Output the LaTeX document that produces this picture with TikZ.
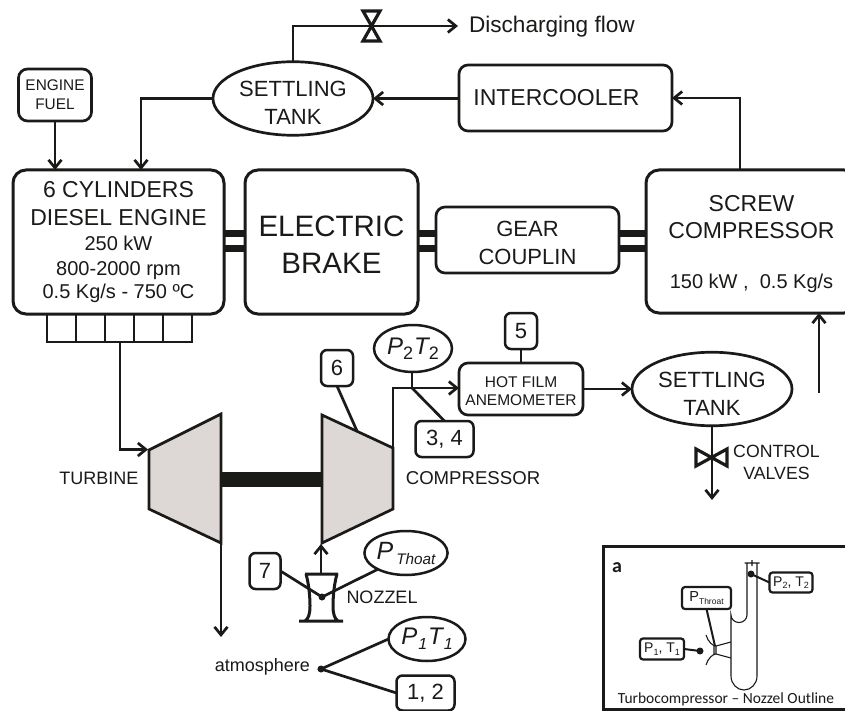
\documentclass[tikz,border=0pt]{standalone}
\usepackage{fontspec}
\setmainfont{Liberation Sans}
\newfontfamily\capfont{Carlito}
\usetikzlibrary{shapes.geometric,arrows.meta}
\newcommand{\fs}[2]{\fontsize{#1}{#2}\selectfont}
\newcommand{\lowr}[3]{\raisebox{-#2pt}{\fontsize{#1}{#1}\selectfont #3}}
\newcommand{\hgt}[1]{\rule{0pt}{#1pt}}
\definecolor{ink}{HTML}{1A1A18}
\definecolor{casing}{HTML}{DDD8D6}
\tikzset{
  x=1pt,y=-1pt,
  every node/.style={text=ink,inner sep=0pt,outer sep=0pt},
  bigbox/.style={draw=ink,line width=3pt,rounded corners=13pt,align=center},
  midbox/.style={draw=ink,line width=2.7pt,rounded corners=9pt,align=center},
  numbox/.style={draw=ink,line width=2.5pt,rounded corners=6pt,align=center,font=\fs{22}{24}},
  tank/.style={draw=ink,line width=2.7pt,ellipse,align=center},
  label/.style={align=center},
  pipe/.style={draw=ink,line width=2.7pt},
  flow/.style={pipe,-{Straight Barb[length=8pt,width=13pt,line width=2.7pt]}},
  bar/.style={draw=ink,line width=7pt},
  casingshape/.style={draw=ink,line width=2.7pt,fill=casing,line join=miter},
  valve/.style={draw=ink,line width=3.2pt,line join=miter},
  thin/.style={draw=ink,line width=1.1pt},
  insetbox/.style={draw=ink,line width=2.2pt,rounded corners=3pt,fill=white,align=center},
  insetlead/.style={draw=ink,line width=2pt},
  dot/.style={circle,fill=ink,minimum size=#1},
}
\begin{document}
\begin{tikzpicture}
\clip (0,0) rectangle (845,711);
\fill[white] (0,0) rectangle (845,711);

% main boxes
\node[bigbox,minimum width=211pt,minimum height=144pt,font=\fs{20}{25}] (engine) at (118.5,242)
  {{\fontsize{23}{25}\selectfont 6 CYLINDERS}\\[3pt]{\fontsize{23}{25}\selectfont DIESEL ENGINE}\\250 kW\\800-2000 rpm\\[-2pt]0.5 Kg/s - 750 ºC};
\node[bigbox,minimum width=173pt,minimum height=144pt,font=\fs{29.5}{37}] (brake) at (331.5,242) {\hgt{26}ELECTRIC\\BRAKE};
\node[midbox,minimum width=183pt,minimum height=66pt,font=\fs{22}{28}] (gear) at (527.5,240) {\hgt{22}GEAR\\COUPLIN};
\node[bigbox,minimum width=211pt,minimum height=143pt,font=\fs{20}{27}] (screw) at (751.5,241.5)
  {\hgt{20.5}{\fontsize{23}{27}\selectfont SCREW}\\{\fontsize{23}{27}\selectfont COMPRESSOR}\\[23pt]150 kW ,\ \ 0.5 Kg/s};
\node[midbox,minimum width=213pt,minimum height=66pt,font=\fs{23}{28}] (cooler) at (565.5,98) {INTERCOOLER\kern18pt};
\node[tank,minimum width=160pt,minimum height=73pt,font=\fs{22}{28}] (tanktop) at (293,98.5) {\hgt{24}SETTLING\\TANK};
\node[midbox,minimum width=73pt,minimum height=52pt,font=\fs{15.4}{19}] (fuel) at (55,95) {ENGINE\\FUEL};
\node[midbox,minimum width=124pt,minimum height=52pt,font=\fs{15.5}{18}] (hotfilm) at (521,389) {\hgt{16}HOT FILM\\ANEMOMETER};
\node[tank,minimum width=160pt,minimum height=72pt,font=\fs{22}{28}] (tankbot) at (712,389) {\hgt{24}SETTLING\\TANK};

% discharge
\coordinate (dis) at (458,26);
\node[label,anchor=west,font=\fs{22.6}{26}] (distext) at (469,27) {Discharging flow};
\draw[flow] (tanktop.north) -- (tanktop.north |- dis) -- (dis);
\draw[valve] (363,11) -- (380,11) -- (363,41) -- (380,41) -- cycle;

% top connections
\draw[flow] (cooler.west |- tanktop.east) -- (tanktop.east);
\coordinate (screwUp) at (740,170);
\draw[flow] (screwUp) -- (screwUp |- cooler.east) -- (cooler.east);
\draw[flow] (fuel.south) -- (fuel.south |- engine.north);
\coordinate (engIn) at (141,170);
\draw[flow] (tanktop.west) -- (tanktop.west -| engIn) -- (engIn);

% couplers
\foreach \yy in {233.5,248.5}{
  \draw[bar] (engine.east |- 0,\yy) -- (brake.west |- 0,\yy);
  \draw[bar] (brake.east |- 0,\yy) -- (gear.west |- 0,\yy);
  \draw[bar] (gear.east |- 0,\yy) -- (screw.west |- 0,\yy);
}

% exhaust manifold
\draw[pipe] (47,314) -- (47,342) -- (192,342) -- (192,314);
\foreach \xx in {76,105,134,163}{\draw[pipe] (\xx,314) -- (\xx,342);}
\coordinate (manifold) at (120,342);

% turbine and compressor
\coordinate (turbIn) at (148,449.5);
\draw[casingshape] (149,450) -- (221,414) -- (221,543) -- (149,509) -- cycle;
\draw[casingshape] (322,415) -- (393,448) -- (393,509) -- (322,543) -- cycle;
\fill[ink] (221,472) rectangle (322,487);
\draw[flow] (manifold) -- (manifold |- turbIn) -- (turbIn);
\node[label,font=\fs{18}{22}] (turbtext) at (99,478) {TURBINE};
\node[label,font=\fs{18.6}{22}] (comptext) at (473,478) {COMPRESSOR};

% compressor outlet
\coordinate (compOut) at (393,448);
\coordinate (tap) at (412,388);
\draw[flow] (compOut) -- (compOut |- tap) -- (hotfilm.west |- tap);
\node[tank,minimum width=78pt,minimum height=47pt,font=\itshape\fs{24}{28},line width=2.5pt] (p2) at (413,348.5)
  {P\lowr{18}{5}{\upshape 2}\kern1pt T\lowr{18}{5}{\upshape 2}};
\node[numbox,minimum width=58pt,minimum height=36pt] (b34) at (444.5,439) {3, 4};
\node[numbox,minimum width=32pt,minimum height=36pt] (b6) at (337,368) {6};
\node[numbox,minimum width=32pt,minimum height=36pt] (b5) at (521,331) {5};
\draw[pipe] (p2.south -| tap) -- (tap);
\draw[pipe] (tap) -- (b34.north);
\coordinate (b6end) at (357,431);
\draw[pipe] (b6.south) -- (b6end);
\draw[pipe] (b5.south) -- (b5.south |- hotfilm.north);

% settling tank below and valves
\draw[flow] (hotfilm.east) -- (tankbot.west);
\coordinate (vout) at (712,500);
\draw[flow] (tankbot.south) -- (vout);
\draw[valve] (696,449) -- (727,466) -- (727,449) -- (696,466) -- cycle;
\node[label,font=\fs{17.7}{22}] (ctrl) at (776.5,462) {CONTROL\\VALVES};
\coordinate (upstart) at (819,393);
\draw[flow] (upstart) -- (upstart |- screw.south);

% turbine exhaust
\coordinate (turbOut) at (221,543);
\coordinate (exhEnd) at (221,637);
\draw[flow] (turbOut) -- (exhEnd);

% nozzle
\draw[draw=ink,line width=3pt,line join=miter]
  (305,574) -- (338,574)
  (299,621) -- (343,621)
  (306,574) .. controls (310,588) and (310,604) .. (310,606) .. controls (310,615) and (308,619) .. (305,621)
  (337,574) .. controls (333,588) and (333,604) .. (333,606) .. controls (333,615) and (335,619) .. (338,621);
\coordinate (nozTop) at (321,574);
\coordinate (compIn) at (321,544);
\draw[flow] (nozTop) -- (compIn);
\node[dot=7pt] (noztap) at (322,597) {};
\node[numbox,minimum width=31pt,minimum height=36pt] (b7) at (265,571) {7};
\node[tank,minimum width=78pt,minimum height=44pt,line width=2.5pt] (pth) at (406,553)
  {\itshape\fs{25}{28}P\kern3pt\lowr{15.3}{5}{Thoat}};
\draw[pipe] (b7.east) -- (noztap.center) -- (pth.210);
\node[label,font=\fs{18}{22}] (noztext) at (382,597) {NOZZEL};

% atmosphere
\node[label,anchor=east,font=\fs{18}{22}] (atm) at (310,667) {atmosphere};
\node[dot=7pt] (atmdot) at (321,669) {};
\node[tank,minimum width=77pt,minimum height=44pt,line width=2.5pt] (p1) at (427,639)
  {\itshape\fs{24}{28}P\kern1pt\lowr{16}{5}{1}\kern1pt T\kern1pt\lowr{16}{5}{1}};
\node[numbox,minimum width=58pt,minimum height=35pt] (b12) at (425.5,693) {1, 2};
\draw[pipe] (p1.west) -- (atmdot.center) -- (b12.west);

% inset
\draw[draw=ink,line width=3pt,fill=white] (603,546) rectangle (852,709);
\node[font=\bfseries\capfont\fs{20}{22}] (insa) at (617,568) {a};
\draw[thin] (731,642) -- (731,676) arc[start angle=180,end angle=360,x radius=13,y radius=-14] -- (757,563)
  (747,563) -- (747,615) arc[start angle=0,end angle=-180,x radius=8,y radius=-7.5] -- (731,642)
  (744.5,563) -- (759.5,563) (752,560) -- (752,566);
\draw[thin] (731,642) -- (716,646) -- (716,654) -- (731,658)
  (706,635) .. controls (708,642) and (713,646) .. (716,646)
  (706,665) .. controls (708,658) and (713,654) .. (716,654)
  (714,645) -- (714,655);
\node[dot=7pt] (d2) at (751,574) {};
\node[dot=7pt] (d1) at (700,651) {};
\coordinate (dth) at (715,646);
\node[insetbox,minimum width=43pt,minimum height=20pt,font=\fs{14}{16}] (i2) at (791,582.5) {P\lowr{9}{2.5}{2}, T\lowr{9}{2.5}{2}};
\node[insetbox,minimum width=49pt,minimum height=22pt,font=\fs{14.5}{16}] (ith) at (706.5,598) {P\lowr{8.5}{2.5}{Throat}};
\node[insetbox,minimum width=44pt,minimum height=21pt,font=\fs{14}{16}] (i1) at (662,649) {P\lowr{9}{2.5}{1}, T\lowr{9}{2.5}{1}};
\draw[insetlead] (d2.center) -- (i2.west);
\draw[insetlead] (ith.south) -- (dth);
\draw[insetlead] (d1.center) -- (i1.east);
\node[font=\capfont\fs{15.5}{18}] (insetcap) at (726,699.5) {Turbocompressor – Nozzel Outline};
\end{tikzpicture}
\end{document}
